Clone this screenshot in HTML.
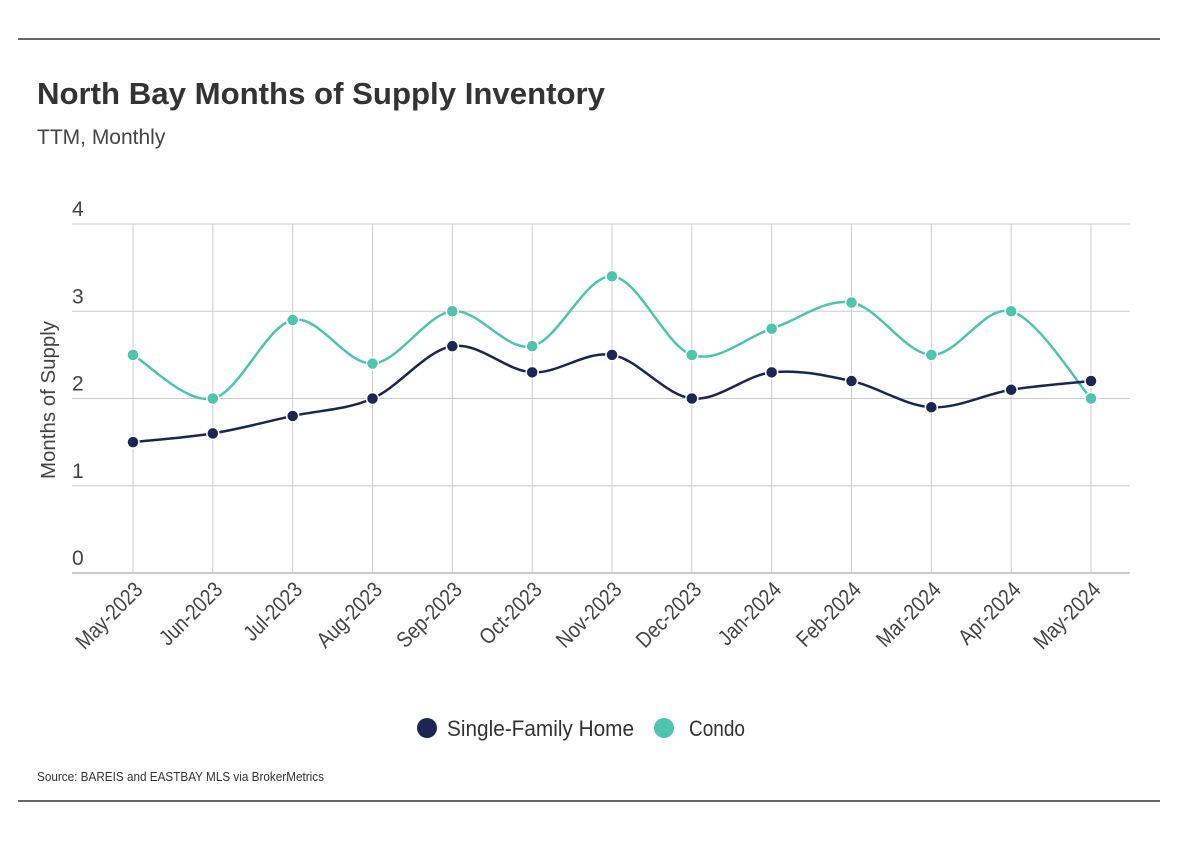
<!DOCTYPE html>
<html><head><meta charset="utf-8"><style>
body{margin:0;background:#fff;width:1182px;height:842px;overflow:hidden;font-family:"Liberation Sans Narrow","Liberation Sans",sans-serif;color:#333}
svg{position:absolute;left:0;top:0}
</style></head><body>
<svg id="c" width="1182" height="842">
<line x1="18" y1="39" x2="1160" y2="39" stroke="#333" stroke-width="1.5"/>
<text x="37" y="104" font-size="31" font-weight="bold" fill="#333" textLength="568" lengthAdjust="spacingAndGlyphs">North Bay Months of Supply Inventory</text>
<text x="37" y="144" font-size="21" fill="#444">TTM, Monthly</text>
<text transform="translate(55,400) rotate(-90)" text-anchor="middle" font-size="20" fill="#444" textLength="158" lengthAdjust="spacingAndGlyphs">Months of Supply</text>
<g id="grid"></g><g id="lines"></g><g id="pts"></g>
<g>
<circle cx="427" cy="728" r="10" fill="#1b2654"/>
<text x="447" y="736" font-size="22" fill="#333" textLength="187" lengthAdjust="spacingAndGlyphs">Single-Family Home</text>
<circle cx="664" cy="728" r="10" fill="#4dc4ae"/>
<text x="689" y="736" font-size="22" fill="#333" textLength="56" lengthAdjust="spacingAndGlyphs">Condo</text>
</g>
<text x="37" y="781" font-size="13" fill="#333" textLength="287" lengthAdjust="spacingAndGlyphs">Source:  BAREIS and EASTBAY MLS via BrokerMetrics</text>
<line x1="18" y1="801" x2="1160" y2="801" stroke="#333" stroke-width="1.5"/>
</svg>
<script>
const categories=["May-2023","Jun-2023","Jul-2023","Aug-2023","Sep-2023","Oct-2023","Nov-2023","Dec-2023","Jan-2024","Feb-2024","Mar-2024","Apr-2024","May-2024"];
const sfhValues=[1.5,1.6,1.8,2.0,2.6,2.3,2.5,2.0,2.3,2.2,1.9,2.1,2.2];
const condoValues=[2.5,2.0,2.9,2.4,3.0,2.6,3.4,2.5,2.8,3.1,2.5,3.0,2.0];
const yTicks=[0,1,2,3,4];
const NS="http://www.w3.org/2000/svg";
function xS(i){return 133+i*(1091-133)/(categories.length-1);}
function yS(v){return 573-v*(573-224)/4;}
function mk(t,a,p){const e=document.createElementNS(NS,t);for(const k in a)e.setAttribute(k,a[k]);p.appendChild(e);return e;}
const grid=document.getElementById('grid'),lines=document.getElementById('lines'),pts=document.getElementById('pts');
yTicks.forEach(v=>{
 const l=mk('line',{x1:72,x2:1130,y1:yS(v),y2:yS(v),stroke:v===0?'#999':'#ccc','stroke-width':1},grid);
 
 
 const t=mk('text',{x:72,y:yS(v)-8,'font-size':21,fill:'#444'},grid);t.textContent=v;
 
 
});
categories.forEach((c,i)=>{
 const l=mk('line',{x1:xS(i),x2:xS(i),y1:224,y2:573,stroke:'#ccc','stroke-width':1},grid);
 
 
 const t=mk('text',{transform:`translate(${xS(i)+11},${591}) rotate(-45) scale(0.86,1)`,'text-anchor':'end','font-size':22,fill:'#444'},grid);t.textContent=c;
 
 
});
function path(vals){
 const P=vals.map((v,i)=>[xS(i),yS(v)]);let d=`M${P[0][0]},${P[0][1]}`;
 for(let i=0;i<P.length-1;i++){const p0=P[Math.max(0,i-1)],p1=P[i],p2=P[i+1],p3=P[Math.min(P.length-1,i+2)];
  d+=` C${p1[0]+(p2[0]-p0[0])/6},${p1[1]+(p2[1]-p0[1])/6} ${p2[0]-(p3[0]-p1[0])/6},${p2[1]-(p3[1]-p1[1])/6} ${p2[0]},${p2[1]}`;}
 return d;}
[[condoValues,'#4dc4ae','condo'],[sfhValues,'#1b2654','sfh']].forEach(([vals,col,n])=>{
 const p=mk('path',{d:path(vals),fill:'none',stroke:col,'stroke-width':2.5},lines);
 
 
 vals.forEach((v,i)=>{const c=mk('circle',{cx:xS(i),cy:yS(v),r:6,fill:col,stroke:'#fff','stroke-width':1.5},pts);
  
  });
});
</script>
</body></html>
